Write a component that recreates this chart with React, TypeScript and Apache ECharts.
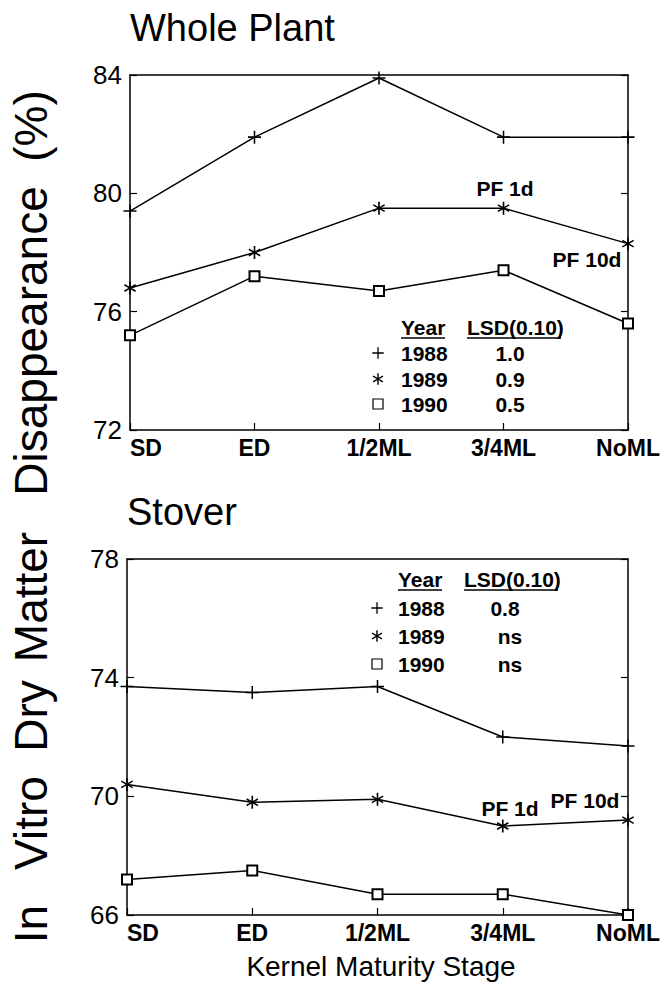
import React, { useEffect, useRef } from "react";
import * as echarts from "echarts";

const categories = ["SD", "ED", "1/2ML", "3/4ML", "NoML"];
const years = ["1988", "1989", "1990"];

const whole1988 = [79.4, 81.9, 83.9, 81.9, 81.9];
const whole1989 = [76.8, 78.0, 79.5, 79.5, 78.3];
const whole1990 = [75.2, 77.2, 76.7, 77.4, 75.6];

const stover1988 = [73.7, 73.5, 73.7, 72.0, 71.7];
const stover1989 = [70.4, 69.8, 69.9, 69.0, 69.2];
const stover1990 = [67.2, 67.5, 66.7, 66.7, 66.0];

const wholeLsd = ["1.0", "0.9", "0.5"];
const stoverLsd = ["0.8", "ns", "ns"];

const wholeAxis = { min: 72, max: 84, interval: 4 };
const stoverAxis = { min: 66, max: 78, interval: 4 };

const PLUS_D =
  "M-0.7,-6L0.7,-6L0.7,-0.7L6,-0.7L6,0.7L0.7,0.7L0.7,6L-0.7,6L-0.7,0.7L-6,0.7L-6,-0.7L-0.7,-0.7Z";
const ASTER_D =
  "M0.75,-6L0.75,6L-0.75,6L-0.75,-6Z" +
  "M-4.846,-3.606L5.546,2.394L4.846,3.606L-5.546,-2.394Z" +
  "M5.546,-2.394L-4.846,3.606L-5.546,2.394L4.846,-3.606Z";

let registered = false;
function registerShapes() {
  if (registered) return;
  registered = true;
  echarts.graphic.registerShape("plusMark", echarts.graphic.extendPath(PLUS_D, {}) as any);
  echarts.graphic.registerShape("asterMark", echarts.graphic.extendPath(ASTER_D, {}) as any);
}

const FONT = "Liberation Sans, Arial, Helvetica, sans-serif";
const BLACK = "#000";
const LEG_FONT = `bold 21px ${FONT}`;

function legendBlock(top: number, symX: number, yearX: number, valX: number[], vals: string[], rowYs: number[]) {
  const els: any[] = [];
  els.push({
    type: "text", x: yearX, y: top,
    style: { text: "Year", font: LEG_FONT, fill: BLACK, align: "left", verticalAlign: "middle" },
  });
  els.push({ type: "line", shape: { x1: yearX, y1: top + 11, x2: yearX + 44, y2: top + 11 }, style: { stroke: BLACK, lineWidth: 1.3 } });
  els.push({
    type: "text", x: yearX + 66, y: top,
    style: { text: "LSD(0.10)", font: LEG_FONT, fill: BLACK, align: "left", verticalAlign: "middle" },
  });
  els.push({ type: "line", shape: { x1: yearX + 66, y1: top + 11, x2: yearX + 160, y2: top + 11 }, style: { stroke: BLACK, lineWidth: 1.3 } });
  rowYs.forEach((ry, i) => {
    if (i === 0) {
      els.push({ type: "plusMark", x: symX, y: ry, scaleX: 0.95, scaleY: 0.95, style: { fill: BLACK } });
    } else if (i === 1) {
      els.push({ type: "asterMark", x: symX, y: ry, scaleX: 0.95, scaleY: 0.95, style: { fill: BLACK } });
    } else {
      els.push({ type: "rect", x: symX, y: ry, shape: { x: -5, y: -5, width: 10, height: 10 }, style: { fill: "#fff", stroke: BLACK, lineWidth: 1.2 } });
    }
    els.push({
      type: "text", x: yearX, y: ry,
      style: { text: years[i], font: LEG_FONT, fill: BLACK, align: "left", verticalAlign: "middle" },
    });
    els.push({
      type: "text", x: valX[i], y: ry,
      style: { text: vals[i], font: LEG_FONT, fill: BLACK, align: "center", verticalAlign: "middle" },
    });
  });
  return els;
}

function textEl(text: string, x: number, y: number, font: string, align = "center", rotation = 0) {
  return { type: "text", x, y, rotation, style: { text, font, fill: BLACK, align, verticalAlign: "middle" } };
}

export default function App() {
  const ref = useRef<HTMLDivElement>(null);
  useEffect(() => {
    if (!ref.current) return;
    registerShapes();
    const chart = echarts.init(ref.current, undefined, { renderer: "svg" });

    const lineStyle = { color: BLACK, width: 1.5 };
    const axisLine = { show: true, lineStyle: { color: BLACK, width: 1.5 } };
    const tick = { show: true, inside: true, length: 7, lineStyle: { color: BLACK, width: 1.2 } };

    const xBottom = (gi: number) => ({
      gridIndex: gi, type: "category", data: categories, boundaryGap: false, position: "bottom",
      axisLine, axisTick: { ...tick, alignWithLabel: true },
      axisLabel: { color: BLACK, fontFamily: FONT, fontSize: 23, fontWeight: "bold", margin: 6, alignMinLabel: "left", interval: 0 },
      splitLine: { show: false },
    });
    const xTop = (gi: number) => ({
      gridIndex: gi, type: "category", data: categories, boundaryGap: false, position: "top",
      axisLine, axisTick: { show: false }, axisLabel: { show: false }, splitLine: { show: false },
    });
    const yLeft = (gi: number, ax: any) => ({
      gridIndex: gi, type: "value", position: "left", ...ax,
      axisLine, axisTick: tick,
      axisLabel: { color: BLACK, fontFamily: FONT, fontSize: 26, margin: 8 },
      splitLine: { show: false },
    });
    const yRight = (gi: number, ax: any) => ({
      gridIndex: gi, type: "value", position: "right", ...ax,
      axisLine, axisTick: tick, axisLabel: { show: false }, splitLine: { show: false },
    });

    const plusSym = "path://" + PLUS_D;
    const asterSym = "path://" + ASTER_D;

    const mk = (name: string, data: number[], xi: number, yi: number, kind: number) => ({
      name, type: "line", data, xAxisIndex: xi, yAxisIndex: yi,
      lineStyle, showSymbol: true,
      symbol: kind === 0 ? plusSym : kind === 1 ? asterSym : "emptyRect",
      symbolSize: kind === 2 ? 10 : 13,
      symbolKeepAspect: true,
      itemStyle: kind === 2 ? { color: BLACK, borderColor: BLACK, borderWidth: 1.2 } : { color: BLACK, borderWidth: 0 },
      z: 5,
    });

    const graphics: any[] = [
      textEl("Whole Plant", 130, 28, `38px ${FONT}`, "left"),
      textEl("Stover", 127, 512, `38px ${FONT}`, "left"),
      textEl("Kernel Maturity Stage", 381, 966, `28px ${FONT}`),
      textEl("PF 1d", 505, 188, LEG_FONT),
      textEl("PF 10d", 587, 259, LEG_FONT),
      textEl("PF 1d", 510, 808, LEG_FONT),
      textEl("PF 10d", 585, 800, LEG_FONT),
      textEl("In", 31, 924, `46px ${FONT}`, "center", Math.PI / 2),
      textEl("Vitro", 31, 823, `46px ${FONT}`, "center", Math.PI / 2),
      textEl("Dry", 31, 716, `46px ${FONT}`, "center", Math.PI / 2),
      textEl("Matter", 31, 597, `46px ${FONT}`, "center", Math.PI / 2),
      textEl("Disappearance", 31, 341, `46px ${FONT}`, "center", Math.PI / 2),
      textEl("(%)", 31, 126, `46px ${FONT}`, "center", Math.PI / 2),
      ...legendBlock(327, 378, 401, [510, 510, 510], wholeLsd, [353, 379, 404]),
      ...legendBlock(579, 377, 398, [505, 510, 510], stoverLsd, [608, 636, 664]),
    ];

    chart.setOption({
      animation: false,
      backgroundColor: "#fff",
      grid: [
        { left: 130, top: 75, width: 498, height: 355, outerBoundsMode: "none" },
        { left: 127, top: 559, width: 501, height: 356, outerBoundsMode: "none" },
      ],
      xAxis: [xBottom(0), xTop(0), xBottom(1), xTop(1)],
      yAxis: [yLeft(0, wholeAxis), yRight(0, wholeAxis), yLeft(1, stoverAxis), yRight(1, stoverAxis)],
      series: [
        mk("1988", whole1988, 0, 0, 0),
        mk("1989", whole1989, 0, 0, 1),
        mk("1990", whole1990, 0, 0, 2),
        mk("1988 stover", stover1988, 2, 2, 0),
        mk("1989 stover", stover1989, 2, 2, 1),
        mk("1990 stover", stover1990, 2, 2, 2),
      ],
      graphic: graphics,
    } as any);

    return () => chart.dispose();
  }, []);

  return <div ref={ref} style={{ position: "fixed", left: 0, top: 0, width: 661, height: 993, background: "#fff" }} />;
}
